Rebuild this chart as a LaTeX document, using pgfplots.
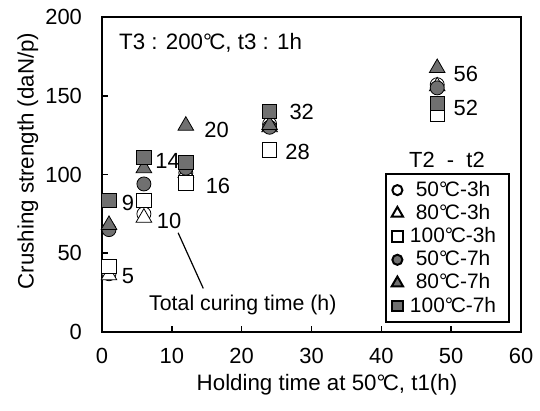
\documentclass[border=0pt]{standalone}
\usepackage{fontspec}
\setmainfont{Liberation Sans}
\usepackage{pgfplots}
\pgfplotsset{compat=1.18}
\definecolor{mg}{RGB}{112,112,112}
\newcommand{\dC}{°\kern-0.12em C}
\pgfplotsset{
  mk/.style={only marks, mark options={draw=black, line width=0.7bp, solid}},
  wc/.style={mk, mark=*, mark size=3.5bp, fill=white, mark options={fill=white}},
  wt/.style={mk, mark=triangle*, mark size=4.5bp, fill=white, mark options={fill=white}},
  ws/.style={mk, mark=square*, mark size=3.6bp, fill=white, mark options={fill=white}},
  gc/.style={mk, mark=*, mark size=3.5bp, fill=mg, mark options={fill=mg}},
  gt/.style={mk, mark=triangle*, mark size=4.5bp, fill=mg, mark options={fill=mg}},
  gs/.style={mk, mark=square*, mark size=3.6bp, fill=mg, mark options={fill=mg}},
}
\begin{document}
\fontsize{11}{13}\selectfont
\begin{tikzpicture}
\begin{axis}[
  scale only axis, width=209.5bp, height=157.5bp,
  xmin=0, xmax=60, ymin=0, ymax=200,
  xtick={0,10,...,60}, ytick={0,50,...,200},
  tick align=inside, major tick length=3bp, tick pos=left,
  axis line style={line width=1bp},
  every tick/.style={black, line width=0.8bp},
  /pgf/number format/assume math mode=true,
  ticklabel style={font=\fontsize{11}{13}\selectfont},
  yticklabel style={xshift=-6.2bp},
  xticklabel style={yshift=-4bp},
  xlabel={Holding time at 50\dC, t1(h)},
  ylabel={Crushing strength (daN/p)},
  x label style={at={(axis description cs:0.537,-0.168)}, anchor=center, font=\fontsize{11.2}{13}\selectfont},
  y label style={at={(axis description cs:-0.177,0.543)}, anchor=center, font=\fontsize{11.2}{13}\selectfont},
  clip=false,
  legend cell align=center,
  legend image post style={/tikz/every mark/.append style={scale=0.72}},
  legend style={at={(0.974,0.505)}, anchor=north east, draw=black, line width=1bp,
    font=\fontsize{10.5}{12}\selectfont, row sep=-1.6bp, inner xsep=3bp, inner ysep=1.5bp,
    nodes={inner xsep=3.5bp}},
]
\addplot[wc] coordinates {(1,37)(6,75)(12,101)(24,132)(48,157)};
\addplot[wt] coordinates {(1,36)(6,72.6)(12,101)(24,130)(48,156)};
\addplot[ws] coordinates {(1,41.5)(6,83.4)(12,94.6)(24,115.6)(48,138)};
\addplot[gc] coordinates {(1,65)(6,94)(12,104)(24,130)(48,155)};
\addplot[gt] coordinates {(1,68)(6,104)(12,131)(24,131.4)(48,167.6)};
\addplot[gs] coordinates {(1,83.4)(6,111)(12,107.5)(24,140)(48,145)};
\legend{50\dC-3h,80\dC-3h,100\dC-3h,50\dC-7h,80\dC-7h,100\dC-7h}
\addplot[black, line width=0.6bp, no marks, forget plot] coordinates {(10.9,63)(14.5,27.7)};
\node[anchor=west, inner sep=0pt] at (axis cs:2.8,35.6) {5};
\node[anchor=west, inner sep=0pt] at (axis cs:2.8,82) {9};
\node[anchor=west, inner sep=0pt] at (axis cs:7.6,108.8) {14};
\node[anchor=west, inner sep=0pt] at (axis cs:7.8,70.7) {10};
\node[anchor=west, inner sep=0pt] at (axis cs:14.8,92.7) {16};
\node[anchor=west, inner sep=0pt] at (axis cs:14.6,128) {20};
\node[anchor=west, inner sep=0pt] at (axis cs:26.2,114.5) {28};
\node[anchor=west, inner sep=0pt] at (axis cs:26.8,140) {32};
\node[anchor=west, inner sep=0pt] at (axis cs:50.3,164) {56};
\node[anchor=west, inner sep=0pt] at (axis cs:50.3,142) {52};
\node[anchor=west, inner sep=0pt, font=\fontsize{11.2}{13}\selectfont] at (axis cs:2.4,183.5) {T3 : 200\dC, t3 : 1h};
\node[anchor=west, inner sep=0pt, font=\fontsize{10.7}{13}\selectfont] at (axis cs:6.7,17) {Total curing time (h)};
\node[anchor=center, inner sep=0pt] at (axis cs:49.4,109) {T2\ \ -\ \ t2};
\coordinate (bl) at (rel axis cs:0,0);
\coordinate (tr) at (rel axis cs:1,1);
\end{axis}
\pgfresetboundingbox
\path[use as bounding box] ([shift={(-51bp,-39bp)}]bl) rectangle ([shift={(9.5bp,8.5bp)}]tr);
\end{tikzpicture}
\end{document}
